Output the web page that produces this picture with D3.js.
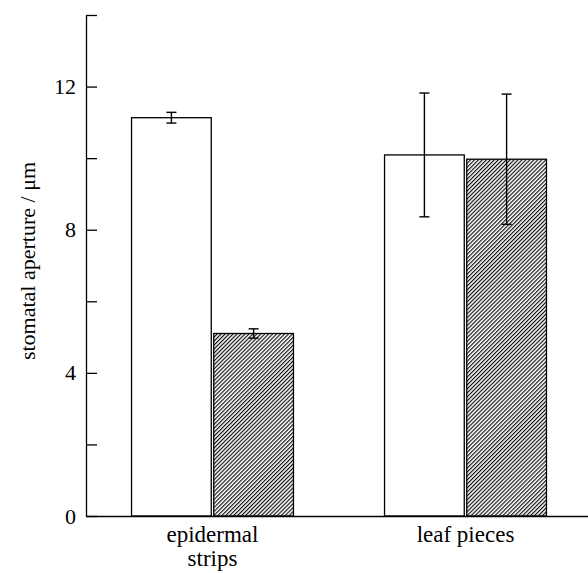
<!DOCTYPE html>
<html>
<head>
<meta charset="utf-8">
<script src="https://cdn.jsdelivr.net/npm/d3@7"></script>
<style>
  body { margin: 0; background: #fff; }
  text { font-family: "Liberation Serif", "DejaVu Serif", serif; fill: #000; }
</style>
</head>
<body>
<script>
// values
var categories = ['epidermal strips', 'leaf pieces'];
var catLines = [['epidermal', 'strips'], ['leaf pieces']];
var series = ['open', 'hatched'];
var openMean = [11.13, 10.09];
var openErr = [0.15, 1.73];
var hatchMean = [5.1, 9.97];
var hatchErr = [0.13, 1.82];
var yTicks = [0, 2, 4, 6, 8, 10, 12, 14];
var yLabelled = [0, 4, 8, 12];

var w = 588;
var h = 573;
var mLeft = 86, mTop = 15, mBottom = 516;

var rows = [];
categories.forEach(function (c, i) {
  rows.push({ cat: c, s: 'open', v: openMean[i], e: openErr[i] });
  rows.push({ cat: c, s: 'hatched', v: hatchMean[i], e: hatchErr[i] });
});

var svg = d3.select('body')
  .append('svg')
  .attr('width', w)
  .attr('height', h);

var defs = svg.append('defs');
var pat = defs.append('pattern')
  .attr('id', 'hatch')
  .attr('patternUnits', 'userSpaceOnUse')
  .attr('width', 2.8)
  .attr('height', 10)
  .attr('patternTransform', 'rotate(45)');
pat.append('rect').attr('width', 2.8).attr('height', 10).attr('fill', '#fff');
pat.append('line')
  .attr('x1', 0.6).attr('y1', 0).attr('x2', 0.6).attr('y2', 10)
  .attr('stroke', '#000').attr('stroke-width', 1.1);

var y = d3.scaleLinear().domain([0, 14]).range([mBottom, mTop]);
var x0 = d3.scaleBand().domain(categories).range([mLeft, 592])
  .paddingInner(0.36).paddingOuter(0.18);
var x1 = d3.scaleBand().domain(series).range([0, x0.bandwidth()]).paddingInner(0.03);

// bars
svg.selectAll('rect.bar')
  .data(rows)
  .enter()
  .append('rect')
    .attr('class', 'bar')
    .attr('x', function (d) { return x0(d.cat) + x1(d.s); })
    .attr('y', function (d) { return y(d.v); })
    .attr('width', x1.bandwidth())
    .attr('height', function (d) { return y(0) - y(d.v); })
    .attr('fill', function (d) { return d.s === 'open' ? '#fff' : 'url(#hatch)'; })
    .attr('stroke', '#000')
    .attr('stroke-width', 1.3);

// error bars
var eb = svg.selectAll('g.err')
  .data(rows)
  .enter()
  .append('g')
    .attr('class', 'err')
    .attr('transform', function (d) {
      return 'translate(' + (x0(d.cat) + x1(d.s) + x1.bandwidth() / 2) + ',0)';
    })
    .attr('stroke', '#000')
    .attr('stroke-width', 1.4);
eb.append('line')
  .attr('y1', function (d) { return y(d.v - d.e); })
  .attr('y2', function (d) { return y(d.v + d.e); });
eb.append('line')
  .attr('x1', -5).attr('x2', 5)
  .attr('y1', function (d) { return y(d.v + d.e); })
  .attr('y2', function (d) { return y(d.v + d.e); });
eb.append('line')
  .attr('x1', -5).attr('x2', 5)
  .attr('y1', function (d) { return y(d.v - d.e); })
  .attr('y2', function (d) { return y(d.v - d.e); });

// y axis, ticks pointing inward
var yAxis = d3.axisLeft(y)
  .tickValues(yTicks)
  .tickSizeInner(-11)
  .tickSizeOuter(0)
  .tickPadding(10)
  .tickFormat(function (d) { return yLabelled.indexOf(d) >= 0 ? d : ''; });
var ya = svg.append('g')
  .attr('transform', 'translate(' + mLeft + ',0)')
  .call(yAxis);
ya.selectAll('path, line').attr('stroke', '#000').attr('stroke-width', 1.3);
ya.selectAll('text')
  .style('font-family', '"Liberation Serif", serif')
  .style('font-size', '22px')
  .attr('fill', '#000');

// x axis
var xa = svg.append('g')
  .attr('transform', 'translate(0,' + mBottom + ')')
  .call(d3.axisBottom(x0).tickSize(0).tickSizeOuter(0).tickFormat(''));
xa.select('.domain').attr('stroke', '#000').attr('stroke-width', 1.3);
xa.selectAll('.tick text').remove();
xa.selectAll('.tick')
  .append('text')
    .attr('text-anchor', 'middle')
    .style('font-size', '23px')
    .selectAll('tspan')
    .data(function (d, i) { return catLines[i]; })
    .enter()
    .append('tspan')
      .attr('x', 0)
      .attr('y', function (d, i) { return 26 + i * 24; })
      .text(function (d) { return d; });

// y title
svg.append('text')
  .attr('transform', 'translate(35,261) rotate(-90)')
  .attr('text-anchor', 'middle')
  .style('font-size', '22px')
  .text('stomatal aperture / \u03bcm');
</script>
</body>
</html>
